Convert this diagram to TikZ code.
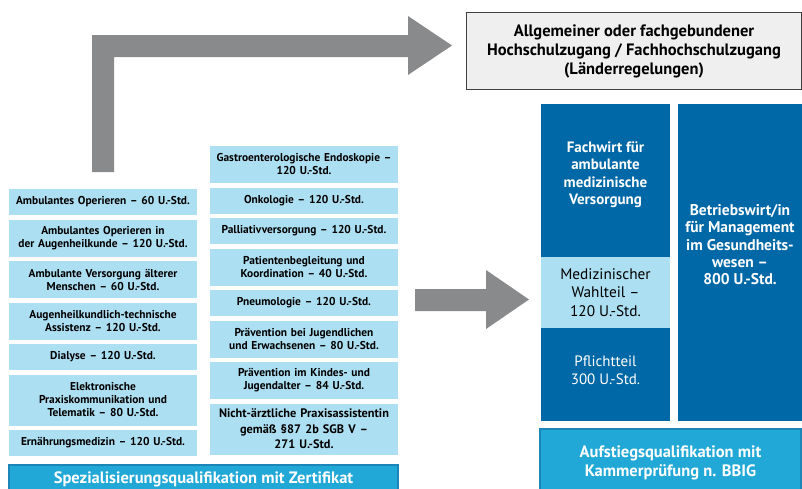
\documentclass[tikz,border=0pt]{standalone}
\usepackage{fontspec}
\setmainfont{PT Sans}
\usetikzlibrary{positioning}
\definecolor{modulblue}{HTML}{ADDFF2}
\definecolor{darkblue}{HTML}{0068A6}
\definecolor{bannerblue}{HTML}{22A8D6}
\definecolor{bannerline}{HTML}{1C86B8}
\definecolor{arrowgray}{HTML}{898A8C}
\definecolor{accessgray}{HTML}{EFEFEF}
\tikzstyle{modul} = [rectangle, fill=modulblue, minimum width=188pt, text width=186pt, align=center, inner sep=0pt, outer sep=0pt, font=\fontsize{11.4}{13}\selectfont\bfseries]
\tikzstyle{onerow} = [minimum height=26pt]
\tikzstyle{tworow} = [minimum height=37pt]
\tikzstyle{threerow} = [minimum height=51pt]
\tikzstyle{banner} = [rectangle, fill=bannerblue, draw=bannerline, line width=1.2pt, align=center, inner sep=0pt, outer sep=0pt, text=white, font=\fontsize{16.5}{19}\selectfont\bfseries]
\tikzstyle{darkcol} = [rectangle, fill=darkblue, align=center, inner sep=0pt, outer sep=0pt, text=white, font=\fontsize{15}{17.3}\selectfont\bfseries]
\tikzstyle{wahl} = [rectangle, fill=modulblue, align=center, inner sep=0pt, outer sep=0pt, font=\fontsize{15.3}{18.5}\selectfont]
\tikzstyle{access} = [rectangle, fill=accessgray, draw=black!75, line width=1pt, align=center, inner sep=0pt, font=\fontsize{16.5}{19}\selectfont\bfseries]
\tikzstyle{blockarrow} = [fill=arrowgray]

\begin{document}
\begin{tikzpicture}[x=1pt, y=-1pt, node distance=4.5pt]
        \clip (0,0) rectangle (802,488);

        \fill [blockarrow] (92,172) -- (92,35) -- (408,35) -- (408,16) -- (452,45.5) -- (408,75) -- (408,57) -- (114,57) -- (114,172) -- cycle;
        \fill [blockarrow] (415,289) -- (486,289) -- (486,270) -- (529,299.5) -- (486,329) -- (486,311) -- (415,311) -- cycle;

        \node (hochschule) [access, anchor=north west, minimum width=335pt, minimum height=77pt] at (466,12) {Allgemeiner oder fachgebundener\\ Hochschulzugang / Fachhochschulzugang\\ (Länderregelungen)};

        % linke Spalte
        \node (ambop) [modul, onerow, anchor=north] at (103,189) {Ambulantes Operieren – 60 U.-Std.};
        \node (augop) [modul, tworow, below=of ambop] {Ambulantes Operieren in\\ der Augenheilkunde – 120 U.-Std.};
        \node (aelter) [modul, tworow, below=of augop] {Ambulante Versorgung älterer\\ Menschen – 60 U.-Std.};
        \node (augtech) [modul, tworow, below=of aelter] {Augenheilkundlich-technische\\ Assistenz – 120 U.-Std.};
        \node (dialyse) [modul, onerow, below=of augtech] {Dialyse – 120 U.-Std.};
        \node (telematik) [modul, threerow, below=of dialyse] {Elektronische\\ Praxiskommunikation und\\ Telematik – 80 U.-Std.};
        \node (ernaehrung) [modul, onerow, below=of telematik] {Ernährungsmedizin – 120 U.-Std.};

        % mittlere Spalte
        \node (gastro) [modul, tworow, anchor=north] at (304,146) {Gastroenterologische Endoskopie –\\ 120 U.-Std.};
        \node (onko) [modul, onerow, below=of gastro] {Onkologie – 120 U.-Std.};
        \node (palliativ) [modul, onerow, below=of onko] {Palliativversorgung – 120 U.-Std.};
        \node (begleitung) [modul, tworow, below=of palliativ] {Patientenbegleitung und\\ Koordination – 40 U.-Std.};
        \node (pneumo) [modul, onerow, below=of begleitung] {Pneumologie – 120 U.-Std.};
        \node (praevjug) [modul, tworow, below=of pneumo] {Prävention bei Jugendlichen\\ und Erwachsenen – 80 U.-Std.};
        \node (praevkind) [modul, tworow, below=of praevjug] {Prävention im Kindes- und\\ Jugendalter – 84 U.-Std.};
        \node (nichtarzt) [modul, threerow, below=of praevkind, font=\fontsize{12.3}{15.5}\selectfont\bfseries] {Nicht-ärztliche Praxisassistentin\\ gemäß §87 2b SGB V –\\ 271 U.-Std.};

        \node (spez) [banner, anchor=north west, minimum width=389pt, minimum height=28pt] at (9,465) {Spezialisierungsqualifikation mit Zertifikat};

        % rechte Seite
        \node (fachwirt) [darkcol, anchor=north west, minimum width=129pt, minimum height=153pt, text depth=15pt] at (541,104) {Fachwirt für\\ ambulante\\ medizinische\\ Versorgung};
        \node (wahlteil) [wahl, below=0pt of fachwirt, minimum width=129pt, minimum height=71pt] {Medizinischer\\ Wahlteil –\\ 120 U.-Std.};
        \node (pflicht) [darkcol, below=0pt of wahlteil, minimum width=129pt, minimum height=93pt, text depth=9pt, font=\fontsize{15}{18.5}\selectfont] {Pflichtteil\\ 300 U.-Std.};
        \node (betriebswirt) [darkcol, anchor=north west, minimum width=124pt, minimum height=317pt, text depth=36pt, font=\fontsize{15.5}{17.3}\selectfont\bfseries] at (678,104) {Betriebswirt/in\\ für Management\\ im Gesundheits-\\ wesen –\\ 800 U.-Std.};
        \node (aufstieg) [banner, anchor=north west, minimum width=261pt, minimum height=67pt] at (540,429) {Aufstiegsqualifikation mit\\ Kammerprüfung n. BBIG};
    \end{tikzpicture}
\end{document}
